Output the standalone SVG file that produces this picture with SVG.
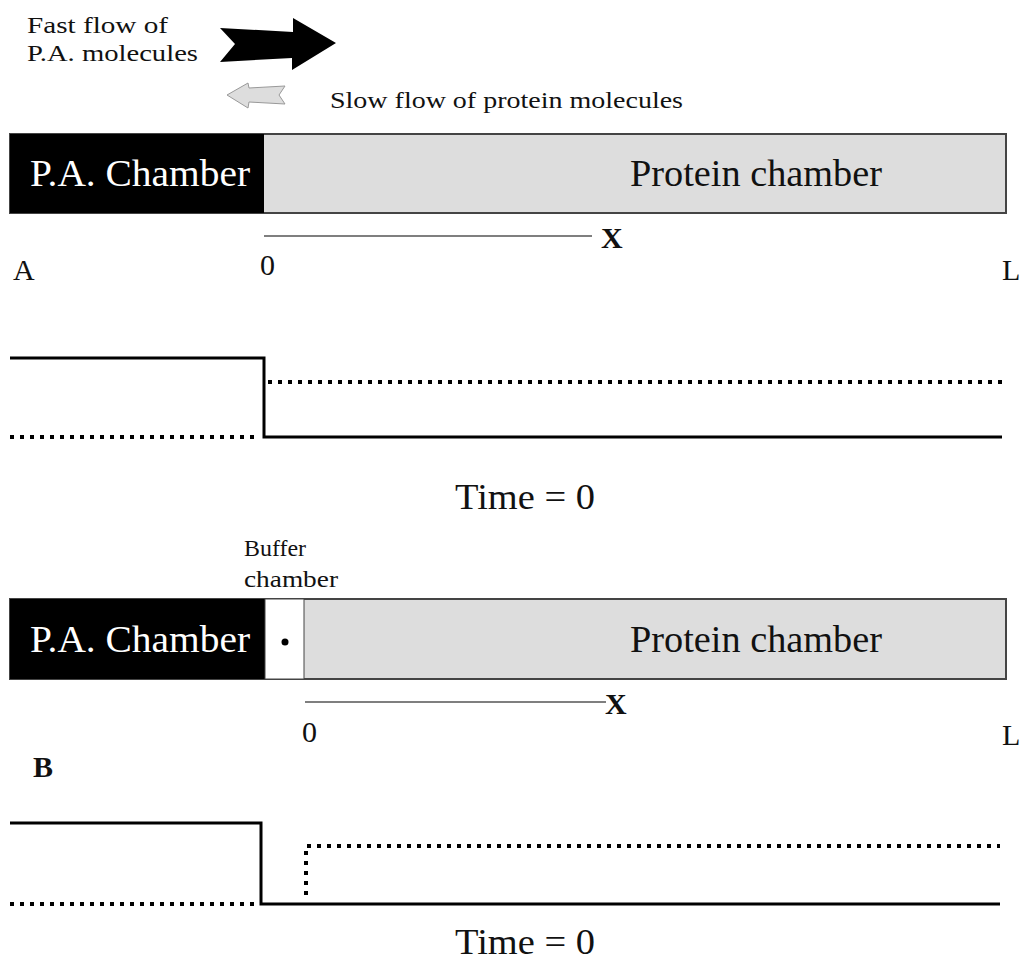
<svg xmlns="http://www.w3.org/2000/svg" width="1021" height="967" viewBox="0 0 1021 967">
<style>
text{font-family:"Liberation Serif","Times New Roman",serif;fill:#111}
.big{font-size:38px}
.lab{font-size:30px}
.time{font-size:36px}
.sm{font-size:23px}
.buf{font-size:23px}
.solid{stroke:#000;stroke-width:3;fill:none}
.dot{stroke:#000;stroke-width:4;fill:none;stroke-dasharray:4 6}
.axis{stroke:#555;stroke-width:1.5}
</style>
<rect width="1021" height="967" fill="#fff"/>
<g id="legend">
<text class="sm" x="27" y="33" textLength="141" lengthAdjust="spacingAndGlyphs">Fast flow of</text>
<text class="sm" x="27" y="61" textLength="171" lengthAdjust="spacingAndGlyphs">P.A. molecules</text>
<polygon points="220,28 293,32 293,18 336,43 292,70 292,58 220,62 235,44" fill="#000"/>
<polygon points="227,95 248,83 249,88 285,86 279,95 285,104 249,102 248,108" fill="#ddd" stroke="#999" stroke-width="1"/>
<text class="sm" x="330" y="108" textLength="353" lengthAdjust="spacingAndGlyphs">Slow flow of protein molecules</text>
</g>
<g id="panelA">
<rect x="10" y="134" width="996" height="79" fill="#ddd" stroke="#444" stroke-width="2"/>
<rect x="10" y="134" width="254" height="79" fill="#000"/>
<text class="big" x="30" y="186" style="fill:#fff" textLength="220" lengthAdjust="spacingAndGlyphs">P.A. Chamber</text>
<text class="big" x="630" y="186" textLength="252" lengthAdjust="spacingAndGlyphs">Protein chamber</text>
<line class="axis" x1="264" y1="236" x2="592" y2="236"/>
<text class="lab" x="601" y="248" style="font-weight:bold">X</text>
<text class="lab" x="260" y="275">0</text>
<text class="lab" x="13" y="280">A</text>
<text class="lab" x="1002" y="280">L</text>
</g>
<g id="graphA">
<polyline class="solid" points="10,358 264,358 264,437 1002,437"/>
<line class="dot" x1="268" y1="382" x2="1002" y2="382"/>
<line class="dot" x1="10" y1="437" x2="258" y2="437"/>
<text class="time" x="455" y="509" textLength="140" lengthAdjust="spacingAndGlyphs">Time = 0</text>
</g>
<g id="panelB">
<text class="buf" x="244" y="556" textLength="62" lengthAdjust="spacingAndGlyphs">Buffer</text>
<text class="buf" x="244" y="587" textLength="94" lengthAdjust="spacingAndGlyphs">chamber</text>
<rect x="10" y="599" width="996" height="80" fill="#ddd" stroke="#444" stroke-width="2"/>
<rect x="10" y="599" width="255" height="80" fill="#000"/>
<rect x="265" y="599" width="39" height="80" fill="#fff" stroke="#444" stroke-width="1"/>
<circle cx="285" cy="642" r="3.5" fill="#000"/>
<text class="big" x="30" y="652" style="fill:#fff" textLength="220" lengthAdjust="spacingAndGlyphs">P.A. Chamber</text>
<text class="big" x="630" y="652" textLength="252" lengthAdjust="spacingAndGlyphs">Protein chamber</text>
<line class="axis" x1="305" y1="702" x2="606" y2="702"/>
<text class="lab" x="605" y="714" style="font-weight:bold">X</text>
<text class="lab" x="302" y="742">0</text>
<text class="lab" x="33" y="777" style="font-weight:bold">B</text>
<text class="lab" x="1002" y="745">L</text>
</g>
<g id="graphB">
<polyline class="solid" points="10,823 261,823 261,904 1000,904"/>
<line class="dot" x1="10" y1="904" x2="255" y2="904"/>
<polyline class="dot" points="306,895 306,846 1000,846"/>
<text class="time" x="455" y="954" textLength="140" lengthAdjust="spacingAndGlyphs">Time = 0</text>
</g>
</svg>
